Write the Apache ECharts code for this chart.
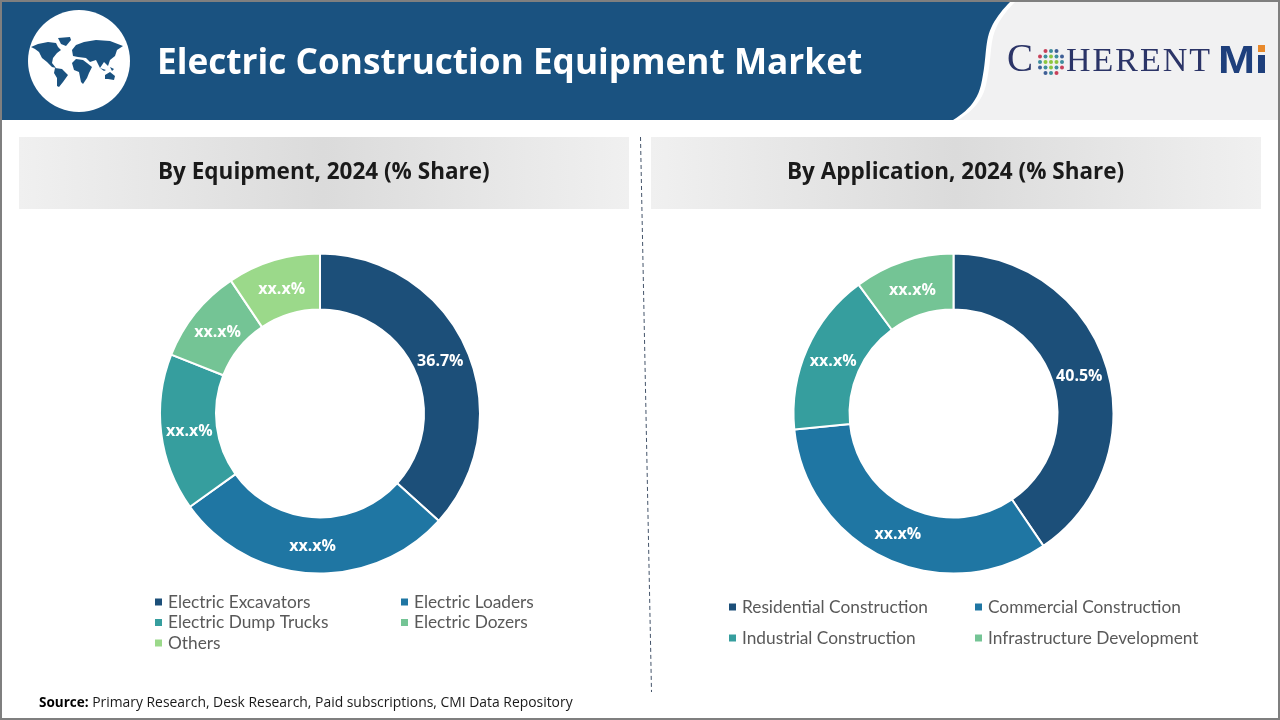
<!DOCTYPE html>
<html>
<head>
<meta charset="utf-8">
<title>Electric Construction Equipment Market</title>
<style>
  html, body { margin: 0; padding: 0; background: #fff; }
  #main { width: 1280px; height: 720px; }
</style>
<script src="https://cdn.jsdelivr.net/npm/echarts@6/dist/echarts.min.js"></script>
</head>
<body>
<div id="main"></div>
<script>
var equipmentNames = ['Electric Excavators', 'Electric Loaders', 'Electric Dump Trucks', 'Electric Dozers', 'Others'];
var equipmentValues = [36.7, 28.4, 15.9, 9.6, 9.4];
var equipmentLabels = ['36.7%', 'xx.x%', 'xx.x%', 'xx.x%', 'xx.x%'];
var equipmentColors = ['#1C4F79', '#1F76A3', '#369E9E', '#74C495', '#9BD98A'];

var applicationNames = ['Residential Construction', 'Commercial Construction', 'Industrial Construction', 'Infrastructure Development'];
var applicationValues = [40.5, 32.9, 16.5, 10.1];
var applicationLabels = ['40.5%', 'xx.x%', 'xx.x%', 'xx.x%'];
var applicationColors = ['#1C4F79', '#1F76A3', '#369E9E', '#74C495'];

var BLUE = '#1A5280';
var LOGO = '#2B3467';
var SANS = '"Open Sans", "Noto Sans", sans-serif';
var CY = 413.5;

function pieData(names, values, colors) {
  return names.map(function (n, i) {
    return { name: n, value: values[i], itemStyle: { color: colors[i] } };
  });
}

function donut(cx, names, values, labels, colors) {
  return {
    type: 'pie',
    center: [cx, CY],
    radius: [104, 160],
    startAngle: 90,
    clockwise: true,
    avoidLabelOverlap: false,
    silent: true,
    itemStyle: { borderColor: '#fff', borderWidth: 2 },
    label: {
      position: 'inside',
      color: '#fff',
      fontFamily: SANS,
      fontWeight: 700,
      fontSize: 16,
      formatter: function (p) { return labels[p.dataIndex]; }
    },
    // the labels sit a little nearer the hole than the ring's middle
    labelLayout: function (p) {
      var r = p.labelRect;
      var lx = r.x + r.width / 2, ly = r.y + r.height / 2;
      return { x: cx + (lx - cx) * 0.975, y: CY + (ly - CY) * 0.975 + 1.5 };
    },
    labelLine: { show: false },
    data: pieData(names, values, colors)
  };
}

function legend(left, top, gap, names) {
  return {
    orient: 'vertical',
    left: left,
    top: top,
    padding: 0,
    itemGap: gap,
    itemWidth: 9,
    itemHeight: 9,
    icon: 'rect',
    selectedMode: false,
    textStyle: { fontFamily: 'Lato, sans-serif', fontSize: 17.3, color: '#595959', lineHeight: 20 },
    data: names
  };
}

// header art, the logo and the map are decoration only
function bez(p0, p1, p2, p3) {
  var out = [];
  for (var i = 1; i <= 12; i++) {
    var t = i / 12, u = 1 - t;
    out.push([
      u * u * u * p0[0] + 3 * u * u * t * p1[0] + 3 * u * t * t * p2[0] + t * t * t * p3[0],
      u * u * u * p0[1] + 3 * u * u * t * p1[1] + 3 * u * t * t * p2[1] + t * t * t * p3[1]
    ]);
  }
  return out;
}
var headerPoints = [[0, 2], [1010, 2]]
  .concat(bez([1010, 2], [1000, 12], [991, 24], [988, 37]))
  .concat(bez([988, 37], [985, 50], [986, 62], [981, 85]))
  .concat(bez([981, 85], [977, 102], [966, 112], [953, 120]))
  .concat([[0, 120]]);

var continents = [
  [[31,47],[38,44],[48,42],[56,43],[58,47],[61,50],[57,53],[53,58],[52,63],[56,68],[52,67],[47,62],[42,58],[39,52],[35,49]],
  [[58,38],[70,37],[71,40],[66,46],[61,44]],
  [[55,68],[62,69],[68,75],[63,82],[59,87],[57,86],[57,78],[54,73]],
  [[72,63],[76,59],[83,60],[87,63],[92,67],[89,73],[87,78],[83,84],[81,82],[79,72],[74,70]],
  [[72,50],[76,45],[84,42],[96,40],[110,41],[123,46],[117,50],[115,56],[110,60],[108,66],[104,62],[100,68],[96,60],[90,62],[86,58],[78,57],[73,56]],
  [[105,75],[110,72],[115,76],[114,80],[108,79],[105,79]],
  [[100,68],[106,70],[104,71]],
  [[110,67],[114,69],[112,71]]
];

var graphics = [
  { type: 'rect', z: -10, shape: { x: 950, y: 2, width: 328, height: 118 }, style: { fill: '#F1F1F2' } },
  { type: 'polygon', z: -9, x: 5, shape: { points: headerPoints }, style: { fill: '#fff' } },
  { type: 'polygon', z: -8, shape: { points: headerPoints }, style: { fill: BLUE } },
  { type: 'circle', z: -7, shape: { cx: 79, cy: 61, r: 51 }, style: { fill: '#fff' } }
];
continents.forEach(function (pts) {
  graphics.push({ type: 'polygon', z: -6, shape: { points: pts }, style: { fill: BLUE } });
});

// panel bars
[19, 651].forEach(function (x) {
  graphics.push({
    type: 'rect', z: -10,
    shape: { x: x, y: 137, width: 610, height: 72 },
    style: {
      fill: new echarts.graphic.LinearGradient(0, 0, 1, 0, [
        { offset: 0, color: '#F0F0F0' },
        { offset: 0.5, color: '#DBDBDB' },
        { offset: 1, color: '#F0F0F0' }
      ])
    }
  });
});

graphics.push({
  type: 'line', z: -5,
  shape: { x1: 640.5, y1: 137, x2: 651.5, y2: 692 },
  style: { stroke: '#44546A', lineWidth: 1, lineDash: [4, 3] }
});

// logo
graphics.push({
  type: 'text', z: -5, x: 1007, y: 41,
  style: { text: 'C', font: '39px "Liberation Serif", serif', fill: LOGO }
});
var logoX = 1066;
[['H', 0.722], ['E', 0.611], ['R', 0.667], ['E', 0.611], ['N', 0.722], ['T', 0.611]].forEach(function (g) {
  graphics.push({
    type: 'text', z: -5, x: logoX, y: 45.5,
    style: { text: g[0], font: '34px "Liberation Serif", serif', fill: LOGO }
  });
  logoX += g[1] * 34 + 2;
});
graphics.push({
  type: 'text', z: -5, x: 1218, y: 43.5, scaleX: 1.17,
  style: { text: 'M', font: '900 38px "Liberation Sans", sans-serif', fill: '#1E3F7C' }
});
graphics.push({ type: 'rect', z: -5, shape: { x: 1258, y: 55, width: 7, height: 18 }, style: { fill: '#1E3F7C' } });
graphics.push({ type: 'rect', z: -5, shape: { x: 1258, y: 45, width: 7, height: 7 }, style: { fill: '#E8892B' } });
for (var gy = -2; gy <= 2; gy++) {
  for (var gx = -2; gx <= 2; gx++) {
    if (Math.abs(gx) + Math.abs(gy) > 3) continue;
    var ring = Math.abs(gx) + Math.abs(gy);
    graphics.push({
      type: 'circle', z: -5,
      shape: { cx: 1051 + gx * 5.5, cy: 62 + gy * 5.5, r: 2 },
      style: { fill: ring < 2 ? '#8CC63F' : (ring == 2 ? '#3E8E9E' : (gx * gy > 0 ? '#C8415A' : '#3F5F96')) }
    });
  }
}

// frame on top of everything
graphics.push({
  type: 'rect', z: 100,
  shape: { x: 1, y: 1, width: 1278, height: 718 },
  style: { fill: 'none', stroke: '#7F7F7F', lineWidth: 2 }
});

var chart = echarts.init(document.getElementById('main'), null, { renderer: 'canvas', width: 1280, height: 720 });

chart.setOption({
  animation: false,
  backgroundColor: '#fff',
  title: [
    {
      text: 'Electric Construction Equipment Market',
      left: 157, top: 39, padding: 0,
      textStyle: { color: '#fff', fontFamily: SANS, fontWeight: 700, fontSize: 35.2, lineHeight: 50 }
    },
    {
      text: 'By Equipment, 2024 (% Share)',
      left: 158, top: 156, padding: 0,
      textStyle: { color: '#1A1A1A', fontFamily: SANS, fontWeight: 700, fontSize: 22.5, lineHeight: 34 }
    },
    {
      text: 'By Application, 2024 (% Share)',
      left: 787, top: 156, padding: 0,
      textStyle: { color: '#1A1A1A', fontFamily: SANS, fontWeight: 700, fontSize: 22.5, lineHeight: 34 }
    },
    {
      text: '{b|Source:}{r| Primary Research, Desk Research, Paid subscriptions, CMI Data Repository}',
      left: 39, top: 694, padding: 0,
      textStyle: {
        color: '#1A1A1A', fontFamily: SANS, fontWeight: 400, fontSize: 13.9, lineHeight: 18,
        rich: {
          b: { fontFamily: SANS, fontWeight: 700, fontSize: 13.5, color: '#000', lineHeight: 18 },
          r: { fontFamily: SANS, fontWeight: 400, fontSize: 13.9, color: '#1A1A1A', lineHeight: 18 }
        }
      }
    }
  ],
  legend: [
    legend(153, 592, 0.5, [equipmentNames[0], equipmentNames[2], equipmentNames[4]]),
    legend(399, 592, 0.5, [equipmentNames[1], equipmentNames[3]]),
    legend(727, 597, 11, [applicationNames[0], applicationNames[2]]),
    legend(973, 597, 11, [applicationNames[1], applicationNames[3]])
  ],
  graphic: { elements: graphics },
  series: [
    donut(320, equipmentNames, equipmentValues, equipmentLabels, equipmentColors),
    donut(953.5, applicationNames, applicationValues, applicationLabels, applicationColors)
  ]
});
</script>
</body>
</html>
